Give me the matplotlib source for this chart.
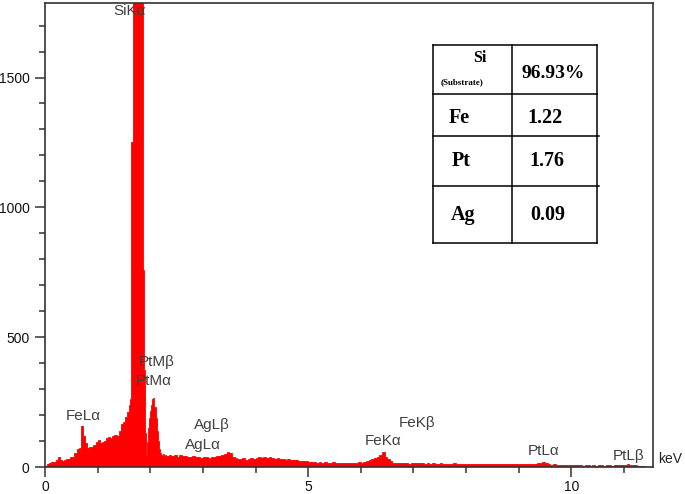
import numpy as np
import matplotlib
matplotlib.use("Agg")
import matplotlib.pyplot as plt
from matplotlib.ticker import MultipleLocator
from matplotlib.lines import Line2D

W, H = 685, 494

# EDS spectrum counts in three stretches of channels
# low energy part, 0.04 keV channels starting at 0 keV
low_step = 0.04
low_counts = [5, 12, 15, 18, 20, 26, 40, 28, 24, 28,
              32, 30, 40, 38, 55, 68, 75, 158, 120, 92,
              72, 78, 76, 84, 98, 105, 92, 96, 100, 110,
              116, 112, 120, 124, 118, 140, 165, 175, 192, 210]
# Si K / Pt M region, 0.02 keV channels
mid_step = 0.02
mid_counts = [240, 262, 1250, 1250, 2200, 2900, 3300, 3400, 3200, 2800,
              2300, 1900, 1820, 760, 375, 131, 46, 95, 150, 190,
              215, 240, 262, 266, 230, 190, 140, 100, 70, 52,
              48, 46, 50, 44, 47]
# rest of the spectrum, 0.05 keV channels
high_step = 0.05
high_counts = [44, 48, 42, 46, 40, 45, 42, 44, 38, 40,
               42, 37, 40, 36, 38, 40, 36, 38, 40, 42,
               44, 46, 50, 58, 52, 40, 34, 32, 30, 33,
               28, 30, 34, 32, 36, 38, 34, 40, 36, 38,
               34, 32, 36, 30, 32, 28, 30, 26, 28, 26,
               24, 25, 22, 24, 20, 18, 20, 17, 19, 16,
               18, 15, 17, 18, 16, 15, 17, 16, 14, 16,
               15, 17, 16, 18, 17, 19, 22, 26, 30, 34,
               38, 45, 58, 40, 32, 22, 16, 14, 15, 16,
               14, 15, 13, 15, 14, 17, 16, 14, 13, 14,
               12, 14, 13, 12, 14, 12, 13, 11, 12, 14,
               12, 11, 12, 13, 12, 11, 13, 12, 10, 11,
               12, 10, 11, 12, 10, 11, 13, 10, 11, 10,
               12, 10, 11, 10, 11, 12, 10, 11, 12, 11,
               13, 14, 16, 19, 14, 11, 9, 10, 8, 9,
               7, 8, 7, 6, 7, 6, 7, 6, 5, 6,
               7, 5, 6, 5, 7, 6, 5, 6, 7, 5,
               6, 7, 6, 8, 9, 10, 8, 7, 6, 5,
               4, 3]

peak_names = ["SiKα", "FeLα", "PtMβ", "PtMα", "AgLβ", "AgLα",
              "FeKα", "FeKβ", "PtLα", "PtLβ"]

table_rows = ["Fe", "Pt", "Ag"]
table_vals = ["1.22", "1.76", "0.09"]
substrate_val = "96.93%"

# channel edges
edges = [0.0]
for step, cnt in [(low_step, low_counts), (mid_step, mid_counts), (high_step, high_counts)]:
    for _ in cnt:
        edges.append(edges[-1] + step)
counts = low_counts + mid_counts + high_counts

fig = plt.figure(figsize=(W / 100, H / 100), dpi=100)
ax = fig.add_axes([45 / W, (H - 467) / H, (653 - 45) / W, (467 - 3) / H])

ax.stairs(counts, edges, fill=True, facecolor="#ff0000", edgecolor="#ff0000",
          linewidth=0.6, baseline=0, zorder=2)

ax.set_xlim(0, 11.55)
ax.set_ylim(0, 1787)
ax.xaxis.set_major_locator(MultipleLocator(5))
ax.xaxis.set_minor_locator(MultipleLocator(1))
ax.yaxis.set_major_locator(MultipleLocator(500))
ax.yaxis.set_minor_locator(MultipleLocator(100))
ax.tick_params(axis="both", which="major", length=7, width=1.1, color="#333333",
               labelsize=10, labelcolor="#111111", pad=4)
ax.tick_params(axis="x", which="major", pad=2)
ax.tick_params(axis="both", which="minor", length=4, width=1.1, color="#333333")
for lab in ax.get_xticklabels() + ax.get_yticklabels():
    lab.set_fontfamily("Liberation Sans")
for s in ax.spines.values():
    s.set_linewidth(1.2)
    s.set_color("#333333")

# peak labels (pixel centres of the reference converted to data units)
label_pos = {"SiKα": (1.61, 1755), "FeLα": (0.72, 196), "PtMβ": (2.13, 404),
             "PtMα": (2.07, 331), "AgLβ": (3.17, 162), "AgLα": (3.00, 85),
             "FeKα": (6.42, 100), "FeKβ": (7.07, 169), "PtLα": (9.48, 62),
             "PtLβ": (11.09, 42)}
for name in peak_names:
    x, y = label_pos[name]
    ax.text(x, y, name, ha="center", va="center", fontsize=11,
            family="Liberation Sans", color="#404040", zorder=5)

fig.text(670 / W, 1 - 459 / H, "keV", ha="center", va="center", fontsize=10,
         family="Liberation Sans", color="#222222")


def px(x, y):
    return x / W, 1 - y / H


def hline(x0, x1, y):
    a, b = px(x0, y), px(x1, y)
    fig.add_artist(Line2D([a[0], b[0]], [a[1], b[1]], color="black", lw=1.1))


def vline(x, y0, y1):
    a, b = px(x, y0), px(x, y1)
    fig.add_artist(Line2D([a[0], b[0]], [a[1], b[1]], color="black", lw=1.1))


# composition table
hline(433, 597, 45)
hline(433, 597, 94)
hline(433, 599, 136)
hline(433, 599, 186)
hline(433, 597, 243)
vline(433, 45, 243)
vline(512, 45, 243)
vline(597, 45, 243)

serif = "Liberation Serif"
fig.text(*px(480, 58), "Si", ha="center", va="center", fontsize=11.5,
         family=serif, weight="bold")
fig.text(*px(462, 82), "(Substrate)", ha="center", va="center", fontsize=6.5,
         family=serif, weight="bold")
fig.text(*px(553, 73), substrate_val, ha="center", va="center", fontsize=14,
         family=serif, weight="bold")
row_y = [118, 161, 215]
row_x = [459, 461, 463]
val_x = [545, 547, 548]
for i, (el, v) in enumerate(zip(table_rows, table_vals)):
    fig.text(*px(row_x[i], row_y[i]), el, ha="center", va="center", fontsize=14.5,
             family=serif, weight="bold")
    fig.text(*px(val_x[i], row_y[i]), v, ha="center", va="center", fontsize=14.5,
             family=serif, weight="bold")

fig.savefig("out.png", dpi=100)
